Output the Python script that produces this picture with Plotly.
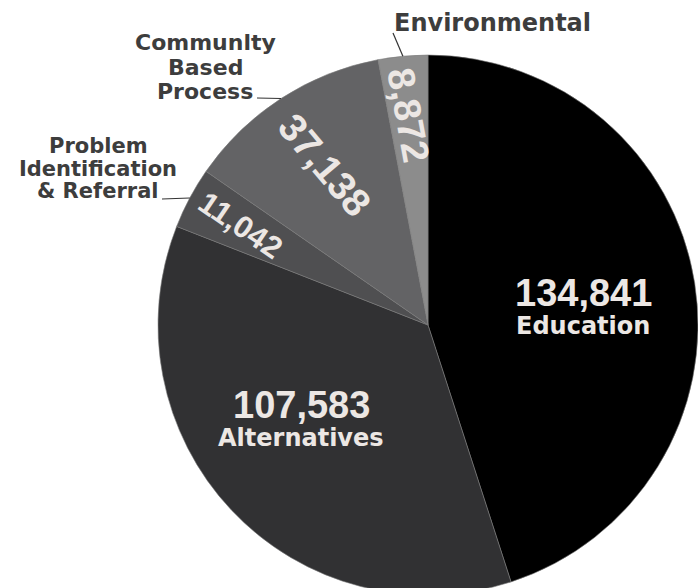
import plotly.graph_objects as go
import math

labels = ["Education", "Alternatives", "Problem Identification & Referral",
          "Community Based Process", "Environmental"]
values = [134841, 107583, 11042, 37138, 8872]
colors = ["#000000", "#313133", "#4f4f51", "#636365", "#8c8c8c"]
inside_names = ["Education", "Alternatives", "", "", ""]
outer_lines = {
    "Environmental": ["Environmental"],
    "Community Based Process": ["Communlty", "Based", "Process"],
    "Problem Identification & Referral": ["Problem", "Identification", "&amp; Referral"],
}

W, H = 698, 595
CX, CY, R = 428, 325, 270
dom_x = [(CX - R) / W, (CX + R) / W]
dom_y = [(H - CY - R) / H, (H - CY + R) / H]

NUM_FONT = "Liberation Sans"
TXT_FONT = "DejaVu Sans"
LABEL_COLOR = "#3d3d3d"
TEXT_COLOR = "#ece7e4"

fig = go.Figure(go.Pie(
    labels=labels, values=values, sort=False, direction="clockwise", rotation=0,
    marker=dict(colors=colors, line=dict(color="#7a7a7a", width=0.6)),
    textinfo="none", showlegend=False, hoverinfo="label+value",
    domain=dict(x=dom_x, y=dom_y),
))

# styling for the in-slice labels: distance from centre, angle tweak, offsets, sizes
inside_style = [
    dict(d=157, rot=None, ang=0, num_size=38, num_dx=0, num_dy=-8, name_dy=25),
    dict(d=160, rot=None, ang=0, num_size=38, num_dx=-10, num_dy=-30, name_dy=3),
    dict(d=212, rot=True, ang=6, num_size=31),
    dict(d=191, rot=True, ang=-7, num_size=39),
    dict(d=211, rot=True, ang=-5, num_size=38),
]
label_style = {
    "Environmental": dict(cx=492, y0=23, dy=0, size=24, start=(393, 33)),
    "Community Based Process": dict(cx=205, y0=43, dy=24, size=22, start=(257, 98)),
    "Problem Identification & Referral": dict(cx=98, y0=145.5, dy=23, size=21, start=(162, 199)),
}


def px(x):
    return x / W


def py(y):
    return 1 - y / H


total = sum(values)
cum = 0
annotations = []
shapes = []
for lab, val, name, st in zip(labels, values, inside_names, inside_style):
    mid_deg = (cum + val / 2) / total * 360
    cum += val
    mid = math.radians(mid_deg)
    ax = CX + st["d"] * math.sin(mid)
    ay = CY - st["d"] * math.cos(mid)
    num_text = f"{val:,}"
    if st["rot"]:
        annotations.append(dict(
            x=px(ax), y=py(ay), xref="paper", yref="paper", text=num_text,
            showarrow=False, xanchor="center", yanchor="middle",
            textangle=mid_deg - 270 + st["ang"],
            font=dict(family=NUM_FONT, size=st["num_size"], color=TEXT_COLOR, weight="bold"),
        ))
    else:
        annotations.append(dict(
            x=px(ax + st["num_dx"]), y=py(ay + st["num_dy"]), xref="paper", yref="paper",
            text=num_text, showarrow=False, xanchor="center", yanchor="middle",
            font=dict(family=NUM_FONT, size=st["num_size"], color=TEXT_COLOR, weight="bold"),
        ))
        annotations.append(dict(
            x=px(ax + st["num_dx"]), y=py(ay + st["name_dy"]), xref="paper", yref="paper",
            text=name, showarrow=False, xanchor="center", yanchor="middle",
            font=dict(family=TXT_FONT, size=24, color=TEXT_COLOR, weight="bold"),
        ))
    if lab in outer_lines:
        ls = label_style[lab]
        for i, line in enumerate(outer_lines[lab]):
            yy = ls["y0"] + i * ls["dy"]
            annotations.append(dict(
                x=px(ls["cx"]), y=py(yy), xref="paper", yref="paper",
                text=line, showarrow=False, xanchor="center", yanchor="middle",
                font=dict(family=TXT_FONT, size=ls["size"], color=LABEL_COLOR, weight="bold"),
            ))
        ex = CX + R * math.sin(mid)
        ey = CY - R * math.cos(mid)
        sx, sy = ls["start"]
        shapes.append(dict(type="line", xref="paper", yref="paper",
                           x0=px(sx), y0=py(sy), x1=px(ex), y1=py(ey),
                           line=dict(color="#333333", width=1.2)))

fig.update_layout(
    width=W, height=H, margin=dict(l=0, r=0, t=0, b=0),
    paper_bgcolor="white", plot_bgcolor="white",
    annotations=annotations, shapes=shapes,
)
fig.write_html(
    "out.html",
    config={"displayModeBar": False},
    post_script=("document.body.style.margin='0';"
                 "document.body.style.overflow='hidden';"
                 "document.documentElement.style.overflow='hidden';"),
)
